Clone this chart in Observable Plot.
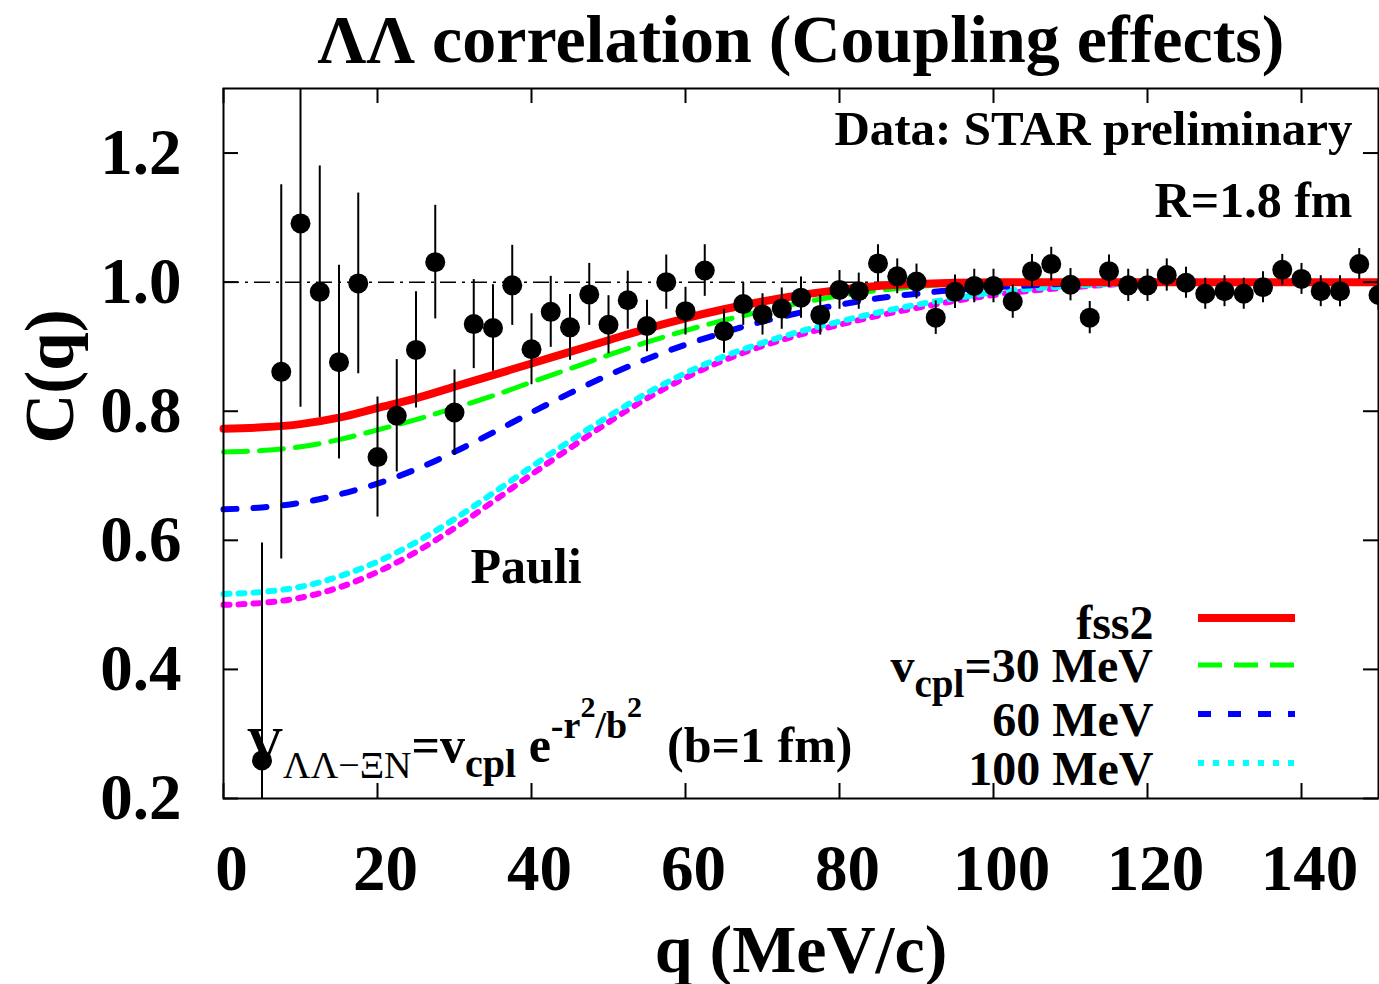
<!DOCTYPE html>
<html><head><meta charset="utf-8">
<script src="https://cdn.jsdelivr.net/npm/d3@7"></script>
<script src="https://cdn.jsdelivr.net/npm/@observablehq/plot@0.6"></script>
<style>body{margin:0;background:#fff} svg{display:block}</style>
</head><body><div id="chart"></div>
<script>
// ---- data ----
const q = [5,7.5,10,12.5,15,17.5,20,22.5,25,27.5,30,32.5,35,37.5,40,42.5,45,47.5,50,52.5,55,57.5,60,62.5,65,67.5,70,72.5,75,77.5,80,82.5,85,87.5,90,92.5,95,97.5,100,102.5,105,107.5,110,112.5,115,117.5,120,122.5,125,127.5,130,132.5,135,137.5,140,142.5,145,147.5,150];
const C = [0.259,0.861,1.091,0.985,0.876,0.998,0.729,0.793,0.895,1.031,0.798,0.935,0.929,0.995,0.896,0.954,0.930,0.981,0.934,0.972,0.932,1.000,0.955,1.018,0.924,0.966,0.950,0.959,0.976,0.949,0.988,0.986,1.029,1.009,1.001,0.945,0.985,0.994,0.994,0.970,1.017,1.028,0.996,0.945,1.017,0.995,0.995,1.011,0.999,0.982,0.986,0.982,0.992,1.019,1.005,0.986,0.986,1.028,0.980];
const err = [0.337,0.29,0.285,0.195,0.15,0.14,0.093,0.087,0.09,0.088,0.066,0.069,0.067,0.062,0.055,0.055,0.051,0.048,0.045,0.045,0.04,0.042,0.037,0.04,0.034,0.033,0.032,0.032,0.032,0.031,0.03,0.028,0.029,0.027,0.027,0.026,0.026,0.026,0.026,0.026,0.026,0.026,0.025,0.025,0.025,0.025,0.025,0.025,0.024,0.024,0.024,0.024,0.024,0.024,0.024,0.024,0.024,0.024,0.024];

const qCurve = [0,5,10,15,20,25,30,35,40,45,50,55,60,65,70,75,80,85,90,95,100,105,110,115,120,125,130,135,140,145,150];
const fss2    = [0.773,0.775,0.780,0.790,0.805,0.820,0.838,0.856,0.874,0.892,0.910,0.928,0.944,0.958,0.970,0.980,0.988,0.994,0.997,0.999,1.0,1.0,1.0,1.0,1.0,1.0,1.0,1.0,1.0,1.0,1.0];
const vcpl30  = [0.737,0.739,0.745,0.756,0.771,0.787,0.805,0.824,0.845,0.866,0.887,0.907,0.925,0.941,0.955,0.968,0.979,0.987,0.993,0.997,0.999,1.0,1.0,1.0,1.0,1.0,1.0,1.0,1.0,1.0,1.0];
const vcpl60  = [0.648,0.651,0.658,0.671,0.688,0.710,0.737,0.767,0.798,0.828,0.856,0.881,0.903,0.922,0.939,0.953,0.965,0.975,0.982,0.988,0.992,0.995,0.998,1.0,1.0,1.0,1.0,1.0,1.0,1.0,1.0];
const vcpl100 = [0.517,0.520,0.528,0.544,0.567,0.597,0.633,0.673,0.714,0.754,0.792,0.828,0.859,0.885,0.906,0.924,0.939,0.953,0.965,0.975,0.984,0.990,0.994,0.997,1.0,1.0,1.0,1.0,1.0,1.0,1.0];
const pauli   = [0.500,0.503,0.511,0.527,0.551,0.582,0.619,0.660,0.702,0.743,0.783,0.820,0.852,0.879,0.901,0.919,0.934,0.948,0.960,0.971,0.980,0.987,0.992,0.996,0.999,1.0,1.0,1.0,1.0,1.0,1.0];

const xTicks = [0,20,40,60,80,100,120,140];
const yTicks = [0.2,0.4,0.6,0.8,1.0,1.2];

// ---- layout ----
const W = 1379, H = 984, mL = 223, mR = 1, mT = 88, mB = 186;
const frameW = W - mL - mR, frameH = H - mT - mB, tick = 15;
const font = "'Liberation Serif','Times New Roman',serif";

const pts = q.map((d, i) => ({q: d, c: C[i], e: err[i]}));
const rows = vals => qCurve.map((d, i) => ({q: d, c: vals[i]}));

const chart = Plot.plot({
  width: W, height: H,
  marginLeft: mL, marginRight: mR, marginTop: mT, marginBottom: mB,
  style: {fontFamily: font, fontWeight: "bold", background: "#fff", color: "#000", overflow: "visible"},
  x: {domain: [0, 150], label: null},
  y: {domain: [0.2, 1.3], label: null},
  marks: [
    Plot.ruleY([1], {stroke: "#000", strokeWidth: 1.5, strokeDasharray: "16,6,3,6"}),
    Plot.line(rows(pauli), {x: "q", y: "c", stroke: "#ff00ff", strokeWidth: 6, strokeDasharray: "6,9", curve: "monotone-x"}),
    Plot.line(rows(vcpl100), {x: "q", y: "c", stroke: "#00ffff", strokeWidth: 6, strokeDasharray: "6,9", curve: "monotone-x"}),
    Plot.line(rows(vcpl60), {x: "q", y: "c", stroke: "#0000ff", strokeWidth: 6, strokeDasharray: "13,17", curve: "monotone-x"}),
    Plot.line(rows(vcpl30), {x: "q", y: "c", stroke: "#00ff00", strokeWidth: 5, strokeDasharray: "24,12", curve: "monotone-x"}),
    Plot.line(rows(fss2), {x: "q", y: "c", stroke: "#ff0000", strokeWidth: 8, curve: "monotone-x"}),
    Plot.ruleX(pts, {x: "q", y1: d => d.c - d.e, y2: d => d.c + d.e, stroke: "#000", strokeWidth: 2, clip: true}),
    Plot.dot(pts, {x: "q", y: "c", r: 10, fill: "#000", stroke: null, clip: true}),
    Plot.frame({stroke: "#000", strokeWidth: 2}),
    // inward ticks on all four sides
    Plot.tickX(xTicks, {x: d => d, insetTop: frameH - tick, stroke: "#000", strokeWidth: 2}),
    Plot.tickX(xTicks, {x: d => d, insetBottom: frameH - tick, stroke: "#000", strokeWidth: 2}),
    Plot.tickY(yTicks, {y: d => d, insetRight: frameW - tick, stroke: "#000", strokeWidth: 2}),
    Plot.tickY(yTicks, {y: d => d, insetLeft: frameW - tick, stroke: "#000", strokeWidth: 2}),
    Plot.axisX(xTicks, {anchor: "bottom", tickSize: 0, tickPadding: 45, fontSize: 65, dx: 8, fontWeight: "bold"}),
    Plot.axisY(yTicks, {anchor: "left", tickSize: 0, tickPadding: 42, fontSize: 65, fontWeight: "bold", tickFormat: d3.format(".1f")}),
    // titles and annotations
    Plot.text(["ΛΛ correlation (Coupling effects)"], {text: d => d, frameAnchor: "top", dy: -27, lineAnchor: "bottom", fontSize: 68, fontWeight: "bold"}),
    Plot.text(["q (MeV/c)"], {text: d => d, frameAnchor: "bottom", dy: 173, lineAnchor: "bottom", fontSize: 68, fontWeight: "bold"}),
    Plot.text(["C(q)"], {text: d => d, frameAnchor: "left", dx: -151, rotate: -90, lineAnchor: "bottom", fontSize: 69, fontWeight: "bold"}),
    Plot.text(["Data: STAR preliminary"], {text: d => d, frameAnchor: "top-right", dx: -26, dy: 56, textAnchor: "end", lineAnchor: "bottom", fontSize: 49, fontWeight: "bold"}),
    Plot.text(["R=1.8 fm"], {text: d => d, frameAnchor: "top-right", dx: -26, dy: 128, textAnchor: "end", lineAnchor: "bottom", fontSize: 50, fontWeight: "bold"}),
    Plot.text(["Pauli"], {text: d => d, frameAnchor: "top-left", dx: 247, dy: 494, textAnchor: "start", lineAnchor: "bottom", fontSize: 50, fontWeight: "bold"}),
    Plot.text(["fss2"], {text: d => d, frameAnchor: "top-right", dx: -225, dy: 550, textAnchor: "end", lineAnchor: "bottom", fontSize: 48, fontWeight: "bold"}),
    Plot.text(["60 MeV"], {text: d => d, frameAnchor: "top-right", dx: -225, dy: 647, textAnchor: "end", lineAnchor: "bottom", fontSize: 48, fontWeight: "bold"}),
    Plot.text(["100 MeV"], {text: d => d, frameAnchor: "top-right", dx: -225, dy: 696, textAnchor: "end", lineAnchor: "bottom", fontSize: 48, fontWeight: "bold"})
  ]
});
document.getElementById("chart").appendChild(chart);

// ---- rich text (sub/superscripts) and legend swatches ----
const svg = d3.select(chart);
function rich(x, y, anchor, parts) {
  const t = svg.append("text").attr("x", x).attr("y", y).attr("text-anchor", anchor)
    .attr("font-family", font).attr("font-weight", "bold").attr("fill", "#000");
  parts.forEach(p => t.append("tspan").attr("font-size", p.s).attr("dy", p.dy || 0)
    .attr("font-weight", p.w || "bold").text(p.t));
}
rich(247, 762, "start", [
  {t: "V", s: 50},
  {t: "ΛΛ−ΞN", s: 38, dy: 16, w: "normal"},
  {t: "=v", s: 50, dy: -16},
  {t: "cpl", s: 40, dy: 15},
  {t: "\u00a0e", s: 50, dy: -15},
  {t: "-r", s: 38, dy: -24},
  {t: "2", s: 30, dy: -21},
  {t: "/b", s: 38, dy: 21},
  {t: "2", s: 30, dy: -21},
  {t: "\u00a0\u00a0(b=1 fm)", s: 50, dy: 45}
]);
rich(mL + frameW - 225, 682, "end", [
  {t: "v", s: 48},
  {t: "cpl", s: 39, dy: 15},
  {t: "=30 MeV", s: 48, dy: -15}
]);
const sw = [
  {y: 618, c: "#ff0000", w: 8, d: null},
  {y: 665, c: "#00ff00", w: 5, d: "24,12"},
  {y: 714, c: "#0000ff", w: 6, d: "13,17"},
  {y: 763, c: "#00ffff", w: 6, d: "6,9"}
];
sw.forEach(s => svg.append("line").attr("x1", 1198).attr("x2", 1295).attr("y1", s.y).attr("y2", s.y)
  .attr("stroke", s.c).attr("stroke-width", s.w).attr("stroke-dasharray", s.d));
</script>
</body></html>
